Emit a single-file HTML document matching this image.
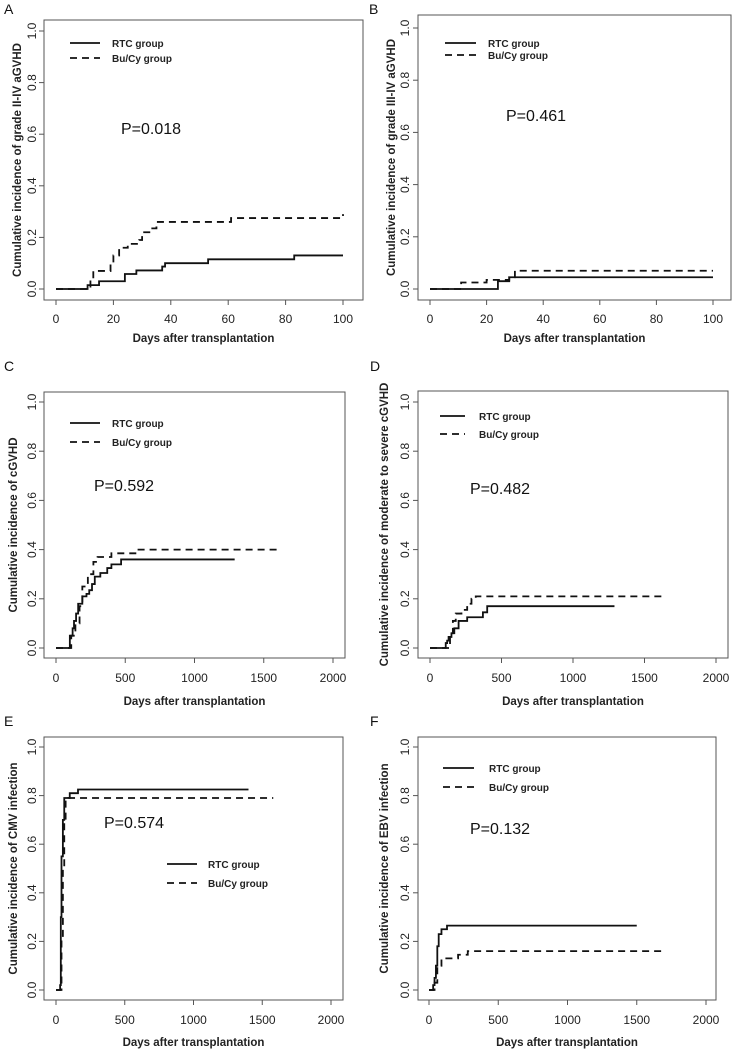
<!DOCTYPE html>
<html><head><meta charset="utf-8"><style>
body{margin:0;background:#fff}
svg{display:block}
text{font-family:"Liberation Sans",Arial,sans-serif}
</style></head><body>
<svg id="fig" width="738" height="1052" viewBox="0 0 738 1052"></svg>
<script>
// ---- data ----
const aRtcT=[0,11,15,24,28,37,38,53,83,100];
const aRtcV=[0,0.015,0.03,0.058,0.072,0.087,0.10,0.115,0.13,0.13];
const aBuT=[0,12,13,17,19,20,22,25,29,30,33,35,61,100];
const aBuV=[0,0.04,0.07,0.07,0.10,0.13,0.16,0.175,0.19,0.22,0.235,0.26,0.275,0.29];
const bRtcT=[0,24,28,100];
const bRtcV=[0,0.03,0.045,0.045];
const bBuT=[0,11,20,28,30,100];
const bBuV=[0,0.025,0.035,0.045,0.07,0.07];
const cRtcT=[0,100,120,130,145,160,190,220,240,260,280,320,370,400,470,1290];
const cRtcV=[0,0.05,0.08,0.11,0.14,0.18,0.21,0.22,0.235,0.26,0.29,0.305,0.325,0.34,0.36,0.36];
const cBuT=[0,110,140,170,190,230,270,300,400,580,1620];
const cBuV=[0,0.05,0.10,0.17,0.25,0.30,0.35,0.37,0.385,0.40,0.40];
const dRtcT=[0,110,120,130,150,170,200,260,370,400,1290];
const dRtcV=[0,0.02,0.03,0.045,0.06,0.08,0.11,0.125,0.145,0.17,0.17];
const dBuT=[0,140,160,180,220,260,290,320,1640];
const dBuV=[0,0.06,0.11,0.14,0.155,0.18,0.20,0.21,0.21];
const eRtcT=[0,30,35,40,50,60,100,160,1400];
const eRtcV=[0,0.02,0.30,0.55,0.70,0.79,0.81,0.825,0.825];
const eBuT=[0,40,50,60,70,90,1580];
const eBuV=[0,0.20,0.50,0.70,0.78,0.79,0.79];
const fRtcT=[0,30,40,50,60,70,90,130,1500];
const fRtcV=[0,0.02,0.05,0.10,0.18,0.23,0.25,0.265,0.265];
const fBuT=[0,40,60,90,210,280,1700];
const fBuV=[0,0.03,0.10,0.13,0.145,0.16,0.16];
const xTicksShort=[0,20,40,60,80,100];
const xTicksLong=[0,500,1000,1500,2000];
const yTicks=[0,0.2,0.4,0.6,0.8,1.0];
const yTickLabels=["0.0","0.2","0.4","0.6","0.8","1.0"];
const panelLetters=["A","B","C","D","E","F"];
const yTitles=["Cumulative incidence of grade II-IV aGVHD","Cumulative incidence of grade III-IV aGVHD","Cumulative incidence of cGVHD","Cumulative incidence of moderate to severe cGVHD","Cumulative incidence of CMV infection","Cumulative incidence of EBV infection"];
const pValues=["P=0.018","P=0.461","P=0.592","P=0.482","P=0.574","P=0.132"];

// ---- layout ----
const panels=[
 {L:"A",bx:[44,363],by:[20,300],x0:56,x1:343,xmax:100,y0:289,y1:31,ticks:xTicksShort,lab:[4,14],yt:17,ytl:32,txl:319,xl:338,leg:[70,100,43,58,112],p:[121,134],rt:[aRtcT,aRtcV],bu:[aBuT,aBuV]},
 {L:"B",bx:[418,731],by:[15,300],x0:430,x1:713,xmax:100,y0:289,y1:28,ticks:xTicksShort,lab:[369,14],yt:391,ytl:405,txl:319,xl:338,leg:[445,476,43,55,488],p:[506,121],rt:[bRtcT,bRtcV],bu:[bBuT,bBuV]},
 {L:"C",bx:[44,345],by:[392,658],x0:56,x1:333,xmax:2000,y0:648,y1:402,ticks:xTicksLong,lab:[4,371],yt:13,ytl:32,txl:678,xl:701,leg:[70,100,423,442,112],p:[94,491],rt:[cRtcT,cRtcV],bu:[cBuT,cBuV]},
 {L:"D",bx:[418,728],by:[391,658],x0:430,x1:716,xmax:2000,y0:648,y1:402,ticks:xTicksLong,lab:[370,371],yt:384,ytl:405,txl:678,xl:701,leg:[440,465,416,434,479],p:[470,494],rt:[dRtcT,dRtcV],bu:[dBuT,dBuV]},
 {L:"E",bx:[44,343],by:[737,1000],x0:56,x1:331,xmax:2000,y0:990,y1:747,ticks:xTicksLong,lab:[4,726],yt:13,ytl:32,txl:1020,xl:1042,leg:[167,197,864,883,208],p:[104,828],rt:[eRtcT,eRtcV],bu:[eBuT,eBuV]},
 {L:"F",bx:[418,716],by:[737,1000],x0:429,x1:706,xmax:2000,y0:990,y1:747,ticks:xTicksLong,lab:[370,726],yt:384,ytl:405,txl:1020,xl:1042,leg:[443,474,768,787,489],p:[470,834],rt:[fRtcT,fRtcV],bu:[fBuT,fBuV]}
];
const NS="http://www.w3.org/2000/svg";
const svg=document.getElementById('fig');
function mk(tag,attrs,parent){const e=document.createElementNS(NS,tag);for(const k in attrs)e.setAttribute(k,attrs[k]);(parent||svg).appendChild(e);return e;}
function txt(s,attrs,parent){const e=mk('text',attrs,parent);e.textContent=s;return e;}

panels.forEach((P,i)=>{
 const g=mk('g',{});
 
 
 const sx=v=>P.x0+(P.x1-P.x0)*v/P.xmax;
 const sy=v=>P.y0+(P.y1-P.y0)*v;
 const lbl=txt(panelLetters[i],{x:P.lab[0],y:P.lab[1],'font-size':14,fill:'#111'},g);
 
 
 const box=mk('rect',{x:P.bx[0],y:P.by[0],width:P.bx[1]-P.bx[0],height:P.by[1]-P.by[0],fill:'none',stroke:'#555','stroke-width':1},g);
 
 
 // x axis
 const xa=mk('g',{},g);
 
 
 P.ticks.forEach(t=>{
  const x=sx(t);
  mk('line',{x1:x,x2:x,y1:P.by[1],y2:P.by[1]+5,stroke:'#555'},xa);
  const tl=txt(String(t),{x:x,y:P.txl+4,'font-size':12,'text-anchor':'middle',fill:'#222'},xa);
  
  
 });
 const xt=txt('Days after transplantation',{x:(P.bx[0]+P.bx[1])/2,y:P.xl+4,'font-size':11.5,'font-weight':'bold','text-anchor':'middle',fill:'#222'},g);
 
 
 // y axis
 const ya=mk('g',{},g);
 
 
 yTicks.forEach((t,j)=>{
  const y=sy(t);
  mk('line',{x1:P.bx[0]-5,x2:P.bx[0],y1:y,y2:y,stroke:'#555'},ya);
  const tl=txt(yTickLabels[j],{x:P.ytl+4,y:y,'font-size':12,'text-anchor':'middle',fill:'#222',transform:`rotate(-90 ${P.ytl+4} ${y})`},ya);
  
  
 });
 const cy=(P.by[0]+P.by[1])/2;
 const yt=txt(yTitles[i],{x:P.yt+4,y:cy,'font-size':11.5,'font-weight':'bold','text-anchor':'middle',fill:'#222',transform:`rotate(-90 ${P.yt+4} ${cy})`},g);
 
 
 // curves
 function step(T,V,dash,name){
  let d=`M${sx(T[0])},${sy(V[0])}`;
  for(let k=1;k<T.length;k++){d+=` H${sx(T[k])} V${sy(V[k])}`;}
  const p=mk('path',{d:d,fill:'none',stroke:'#111','stroke-width':1.8,'stroke-dasharray':dash?'7,5':'none'},g);
  
  
 }
 step(P.rt[0],P.rt[1],false,'rtc-curve');
 step(P.bu[0],P.bu[1],true,'bucy-curve');
 // legend
 const lg=mk('g',{},g);
 
 
 const [l1,l2,ya1,ya2,tx]=P.leg;
 mk('line',{x1:l1,x2:l2,y1:ya1,y2:ya1,stroke:'#111','stroke-width':1.8},lg);
 mk('line',{x1:l1,x2:l2,y1:ya2,y2:ya2,stroke:'#111','stroke-width':1.8,'stroke-dasharray':'7,5'},lg);
 const e1=txt('RTC  group',{x:tx,y:ya1+4,'font-size':10,'font-weight':'bold',fill:'#222','xml:space':'preserve'},lg);
 
 
 const e2=txt('Bu/Cy  group',{x:tx,y:ya2+4,'font-size':10,'font-weight':'bold',fill:'#222','xml:space':'preserve'},lg);
 
 
 const pv=txt(pValues[i],{x:P.p[0],y:P.p[1],'font-size':16,fill:'#111'},g);
 
 
});
</script>
</body></html>
